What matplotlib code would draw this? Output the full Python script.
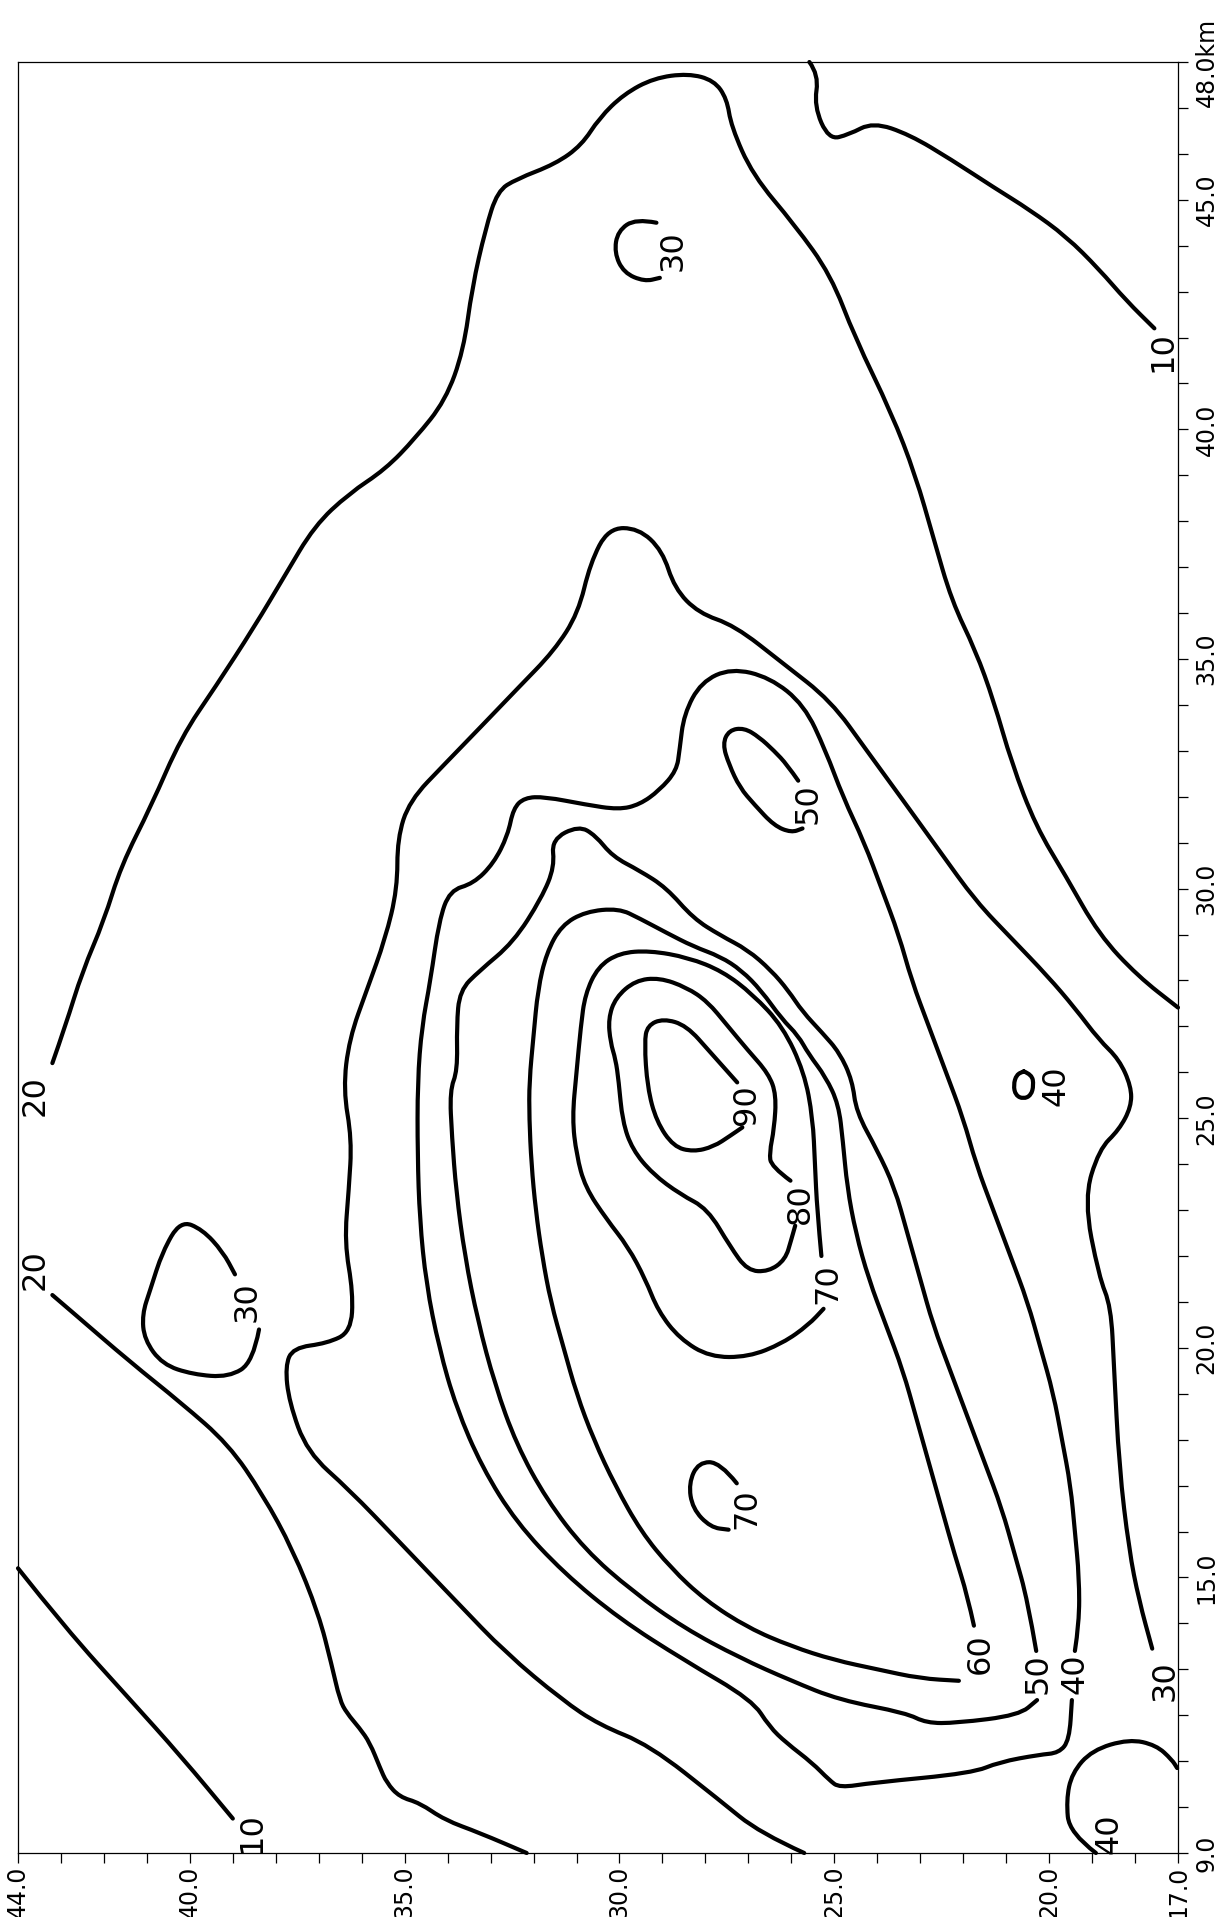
import matplotlib
matplotlib.use("Agg")
import matplotlib.pyplot as plt
from matplotlib.path import Path
from matplotlib.patches import PathPatch

# ---------------- data (u = across axis 17-44, v = along axis 9-48 km) -------------
c10a_u = [44.0, 42.9, 41.4, 40.2, 39.0]
c10a_v = [15.2, 13.9, 12.35, 11.1, 9.75]

c10b_u = [25.58, 25.36, 25.47, 25.13, 24.66, 24.1, 23.25, 22.27, 21.29, 20.45, 19.6, 18.84, 18.2, 17.55]
c10b_v = [48.0, 47.72, 47.04, 46.31, 46.42, 46.69, 46.42, 45.87, 45.27, 44.78, 44.2, 43.49, 42.8, 42.2]

c20a_u = [43.2, 42.9, 42.5, 42.0, 41.6, 40.9, 40.2, 39.4, 38.5, 37.8, 37.1, 36.3, 35.45, 34.75, 34.05,
          33.63, 33.43, 33.12, 32.84, 32.4, 31.49, 30.88, 30.47, 29.9, 29.2, 28.4, 27.8, 27.5, 27.4, 26.9,
          25.92, 25.08, 24.52, 23.67, 23.11, 22.69, 22.27, 21.71, 21.29, 20.87, 20.31, 19.61, 18.84, 17.93, 17.0]
c20a_v = [26.2, 27.0, 28.2, 29.3, 30.5, 31.8, 33.3, 34.4, 35.7, 36.8, 37.9, 38.6, 39.13, 39.81, 40.63,
          41.72, 43.09, 44.36, 45.19, 45.45, 45.78, 46.19, 46.78, 47.3, 47.65, 47.75, 47.6, 47.2, 46.6, 45.54,
          44.45, 43.36, 42.0, 40.36, 39.0, 37.63, 36.27, 35.18, 34.09, 32.73, 31.36, 30.27, 29.0, 28.09, 27.41]

c20b_u = [43.2, 42.7, 41.4, 40.2, 39.1, 38.3, 37.6, 37.0, 36.7, 36.51, 36.35, 36.05, 35.81, 35.58, 35.42,
          35.12, 34.65, 34.07, 33.26, 32.16]
c20b_v = [21.15, 20.75, 19.7, 18.8, 17.9, 16.8, 15.6, 14.2, 13.1, 12.33, 12.05, 11.72, 11.4, 10.87, 10.53,
          10.22, 10.09, 9.72, 9.44, 9.0]

c30a_u = [25.7, 26.74, 27.67, 29.3, 30.47, 31.33, 32.65, 33.77, 35.17, 36.29, 37.27, 37.69, 37.78, 37.6,
          36.8, 36.25, 36.2, 36.4, 36.3, 36.23, 36.43, 36.29, 35.87, 35.45, 35.17, 35.17, 34.89, 34.05, 33.21,
          32.37, 31.52, 30.96, 30.68, 30.26, 29.56, 29.0, 28.72, 28.16, 27.32, 26.2, 25.08, 24.24, 23.39,
          22.55, 21.71, 20.87, 20.03, 19.4, 18.84, 18.37, 18.09, 18.09, 18.37, 18.84, 19.19, 18.84, 18.56,
          18.49, 18.37, 18.14, 17.91, 17.6]
c30a_v = [9.0, 9.44, 10.15, 11.35, 11.79, 12.33, 13.36, 14.45, 15.82, 16.91, 17.73, 18.82, 19.6, 20.0,
          20.1, 20.35, 21.2, 22.3, 23.45, 24.54, 25.63, 26.73, 27.82, 28.91, 30.0, 31.09, 31.91, 32.73, 33.54,
          34.36, 35.18, 36.0, 37.09, 37.85, 37.85, 37.36, 36.54, 36.0, 35.73, 34.91, 34.09, 33.0, 31.91,
          30.82, 29.73, 28.91, 28.09, 27.4, 26.71, 26.28, 25.69, 25.25, 24.75, 24.32, 23.23, 21.55, 20.9,
          19.59, 17.41, 15.6, 14.51, 13.45]

c30b_u = [29.14, 29.62, 30.04, 30.12, 29.9, 29.42, 29.06]
c30b_v = [44.5, 44.59, 44.32, 43.85, 43.41, 43.22, 43.3]

c30c_u = [38.39, 38.53, 39.09, 39.93, 40.64, 41.06, 41.11, 40.92, 40.64, 40.22, 39.71, 39.23, 38.95]
c30c_v = [20.4, 19.69, 19.36, 19.42, 19.64, 20.18, 20.73, 21.27, 22.09, 22.77, 22.58, 22.09, 21.6]

c40a_u = [19.4, 19.3, 19.3, 19.4, 19.5, 19.7, 19.9, 20.2, 20.5, 20.9, 21.3, 21.7, 22.0, 22.4, 22.8, 23.2,
          23.5, 23.9, 24.3, 24.8, 25.2, 25.7, 26.5, 27.4, 28.1, 28.5, 28.6, 28.67, 29.07, 29.53, 30.02,
          30.79, 31.74, 32.21, 32.47, 32.6, 32.93, 33.4, 33.95, 34.2, 34.4, 34.6, 34.7, 34.7, 34.65, 34.5,
          34.2, 33.8, 33.2, 32.4, 31.3, 30.0, 28.5, 26.91, 26.51, 26.12, 25.51, 25.12, 24.88, 24.12,
          21.79, 21.16, 20.23, 19.77, 19.53, 19.47]
c40a_v = [13.4, 14.0, 15.0, 16.0, 17.0, 18.0, 19.0, 20.0, 21.0, 22.0, 23.0, 24.0, 25.0, 26.0, 27.0, 28.0,
          29.0, 30.0, 31.0, 32.0, 33.0, 34.0, 34.6, 34.8, 34.5, 33.8, 33.03, 32.57, 32.14, 31.83, 31.72,
          31.83, 32.0, 31.98, 31.75, 31.16, 30.55, 30.11, 29.96, 29.3, 28.0, 27.0, 25.8, 24.2, 22.8, 21.4,
          20.0, 18.7, 17.4, 16.2, 15.1, 14.1, 13.2, 12.33, 11.75, 11.4, 10.96, 10.59, 10.42, 10.53,
          10.74, 10.98, 11.14, 11.18, 11.46, 12.33]

c40b_u = [20.59, 20.4, 20.36, 20.42, 20.6, 20.78, 20.83, 20.76, 20.59]
c40b_v = [26.02, 25.95, 25.72, 25.5, 25.42, 25.5, 25.72, 25.95, 26.02]

c40c_u = [18.91, 19.53, 19.6, 19.47, 19.0, 18.14, 17.51, 17.14, 17.02]
c40c_v = [9.0, 9.44, 10.15, 10.74, 11.24, 11.48, 11.35, 11.03, 10.85]

c50a_u = [20.3, 20.5, 20.8, 21.1, 21.5, 21.9, 22.3, 22.7, 23.0, 23.3, 23.6, 24.0, 24.49, 24.58, 24.88,
          25.28, 25.74, 26.07, 26.47, 27.02, 27.65, 28.28, 28.91, 29.53, 30.16, 30.56, 30.95, 31.58, 31.51,
          31.81, 32.47, 33.26, 33.72, 33.79, 33.77, 33.95, 33.9, 33.8, 33.6, 33.3, 32.9, 32.4, 31.7, 30.8,
          29.7, 28.5, 27.2, 26.0, 24.88, 23.33, 22.86, 22.16, 20.7, 20.28]
c50a_v = [13.4, 14.5, 15.5, 16.5, 17.5, 18.5, 19.5, 20.5, 21.5, 22.5, 23.5, 24.3, 25.14, 25.82, 26.43,
          26.86, 27.32, 27.78, 28.22, 28.67, 28.98, 29.35, 30.02, 30.39, 30.7, 31.16, 31.37, 31.07, 30.48,
          29.8, 28.83, 28.21, 27.78, 27.02, 26.04, 25.6, 24.6, 23.4, 22.0, 20.6, 19.2, 17.9, 16.7, 15.6,
          14.7, 13.9, 13.25, 12.75, 12.33, 12.05, 11.83, 11.83, 12.0, 12.33]

c50b_u = [25.84, 26.1, 26.4, 26.75, 27.1, 27.45, 27.6, 27.45, 27.2, 26.86, 26.4, 26.0, 25.74]
c50b_v = [32.35, 32.7, 33.0, 33.3, 33.5, 33.45, 33.15, 32.7, 32.2, 31.83, 31.37, 31.22, 31.31]

c60a_u = [21.75, 21.9, 22.2, 22.5, 22.8, 23.1, 23.4, 23.8, 24.2, 24.5, 24.7, 24.8, 24.9, 25.2, 25.6, 25.84,
          26.23, 26.7, 27.16, 27.65, 28.28, 28.91, 29.53, 30.02, 30.79, 31.35, 31.7, 31.9, 32.0, 32.1, 32.1,
          32.05, 31.95, 31.8, 31.6, 31.3, 31.0, 30.6, 30.1, 29.5, 28.8, 28.0, 27.0, 26.0, 25.0, 24.0, 23.0,
          22.1]
c60a_v = [13.95, 14.6, 15.5, 16.5, 17.5, 18.5, 19.5, 20.5, 21.5, 22.5, 23.5, 24.5, 25.3, 25.9, 26.4, 26.8,
          27.17, 27.78, 28.22, 28.52, 28.74, 29.04, 29.35, 29.57, 29.5, 29.2, 28.6, 27.8, 26.8, 25.8, 25.0,
          24.0, 23.0, 22.0, 21.0, 20.0, 19.0, 18.0, 17.0, 16.0, 15.2, 14.5, 13.9, 13.5, 13.2, 13.0, 12.8,
          12.75]

c70a_u = [25.3, 25.4, 25.45, 25.5, 25.7, 26.2, 26.9, 27.6, 28.4, 29.3, 30.0, 30.5, 30.8, 30.9, 31.0, 31.1,
          31.0, 30.8, 30.3, 29.8, 29.4, 29.1, 28.6, 27.9, 27.0, 26.2, 25.6, 25.25]
c70a_v = [22.0, 23.0, 24.0, 25.0, 26.0, 27.0, 27.7, 28.2, 28.5, 28.65, 28.6, 28.3, 27.7, 27.0, 26.0, 25.0,
          24.2, 23.5, 22.8, 22.2, 21.5, 20.8, 20.2, 19.8, 19.8, 20.1, 20.5, 20.85]

c70b_u = [27.27, 27.66, 28.16, 28.39, 28.3, 27.88, 27.46]
c70b_v = [17.05, 17.51, 17.51, 17.05, 16.5, 16.09, 16.04]

c80_u = [26.02, 26.47, 26.51, 26.4, 26.35, 26.53, 27.02, 27.49, 27.95, 28.44, 29.07, 29.63, 30.09, 30.26,
         30.21, 30.09, 30.02, 29.93, 29.7, 29.23, 28.58, 27.95, 27.42, 27.02, 26.53, 26.14, 26.0, 25.91]
c80_v = [23.64, 23.95, 24.25, 24.77, 25.51, 25.97, 26.49, 27.02, 27.54, 27.85, 28.06, 28.0, 27.63, 27.17,
         26.65, 26.28, 25.82, 24.93, 24.32, 23.79, 23.34, 23.03, 22.2, 21.68, 21.66, 21.92, 22.36, 22.66]

c90_u = [27.26, 27.88, 28.44, 28.98, 29.35, 29.42, 29.35, 29.14, 28.74, 28.28, 27.81, 27.42, 27.14]
c90_v = [25.78, 26.43, 27.02, 27.17, 27.02, 26.65, 25.67, 24.93, 24.38, 24.27, 24.38, 24.62, 24.8]

label_text = ["10", "10", "20", "20", "30", "30", "30", "40", "40", "40",
              "50", "50", "60", "70", "70", "80", "90"]
label_u = [38.55, 17.35, 43.6, 43.6, 17.3, 28.75, 38.67, 19.4, 19.85, 18.6,
           20.25, 25.62, 21.6, 25.15, 27.04, 25.8, 27.05]
label_v = [9.45, 41.7, 25.5, 21.7, 12.75, 43.9, 21.0, 12.9, 25.7, 9.42,
           12.9, 31.85, 13.35, 21.4, 16.5, 23.15, 25.3]

u_ticks = list(range(17, 45))
u_ticklabels = {44: "44.0", 40: "40.0", 35: "35.0", 30: "30.0", 25: "25.0", 20: "20.0", 17: "17.0"}
v_ticks = list(range(9, 49))
v_ticklabels = {9: "9.0", 15: "15.0", 20: "20.0", 25: "25.0", 30: "30.0", 35: "35.0",
                40: "40.0", 45: "45.0", 48: "48.0km"}


def smooth_path(uu, vv):
    pts = list(zip(uu, vv))
    if len(pts) < 3:
        return Path(pts)
    verts = [pts[0]]
    codes = [Path.MOVETO]
    for i in range(1, len(pts) - 1):
        mid = ((pts[i][0] + pts[i + 1][0]) / 2.0, (pts[i][1] + pts[i + 1][1]) / 2.0)
        verts += [pts[i], mid]
        codes += [Path.CURVE3, Path.CURVE3]
    verts.append(pts[-1])
    codes.append(Path.LINETO)
    return Path(verts, codes)


# ---------------- figure ----------------
plt.rcParams['font.family'] = ['DejaVu Sans']

W, H = 1223, 1917
fig = plt.figure(figsize=(W / 100, H / 100), dpi=100)
ax = fig.add_axes([18 / W, 64 / H, 1160 / W, 1791 / H])
ax.set_xlim(44, 17)
ax.set_ylim(9, 48)

lines = [(c10a_u, c10a_v), (c10b_u, c10b_v), (c20a_u, c20a_v), (c20b_u, c20b_v),
         (c30a_u, c30a_v), (c30b_u, c30b_v), (c30c_u, c30c_v),
         (c40a_u, c40a_v), (c40b_u, c40b_v), (c40c_u, c40c_v),
         (c50a_u, c50a_v), (c50b_u, c50b_v), (c60a_u, c60a_v),
         (c70a_u, c70a_v), (c70b_u, c70b_v), (c80_u, c80_v), (c90_u, c90_v)]
for uu, vv in lines:
    patch = PathPatch(smooth_path(uu, vv), facecolor='none', edgecolor='black', lw=3.0,
                      capstyle='round', joinstyle='round', clip_on=False)
    ax.add_patch(patch)

for t, lu, lv in zip(label_text, label_u, label_v):
    ax.text(lu, lv, t, rotation=90, ha='center', va='center', fontsize=23, color='black')

ax.set_xticks(u_ticks)
ax.set_xticklabels([u_ticklabels.get(t, "") for t in u_ticks], rotation=90, fontsize=17)
ax.set_yticks(v_ticks)
ax.set_yticklabels([v_ticklabels.get(t, "") for t in v_ticks], rotation=90, fontsize=17,
                   va='center')
ax.yaxis.tick_right()
ax.tick_params(axis='both', direction='out', length=7, width=0.9, pad=2, color='black')
ax.tick_params(axis='y', pad=5)
for s in ax.spines.values():
    s.set_linewidth(0.9)

fig.savefig("out.png", dpi=100, facecolor='white')
